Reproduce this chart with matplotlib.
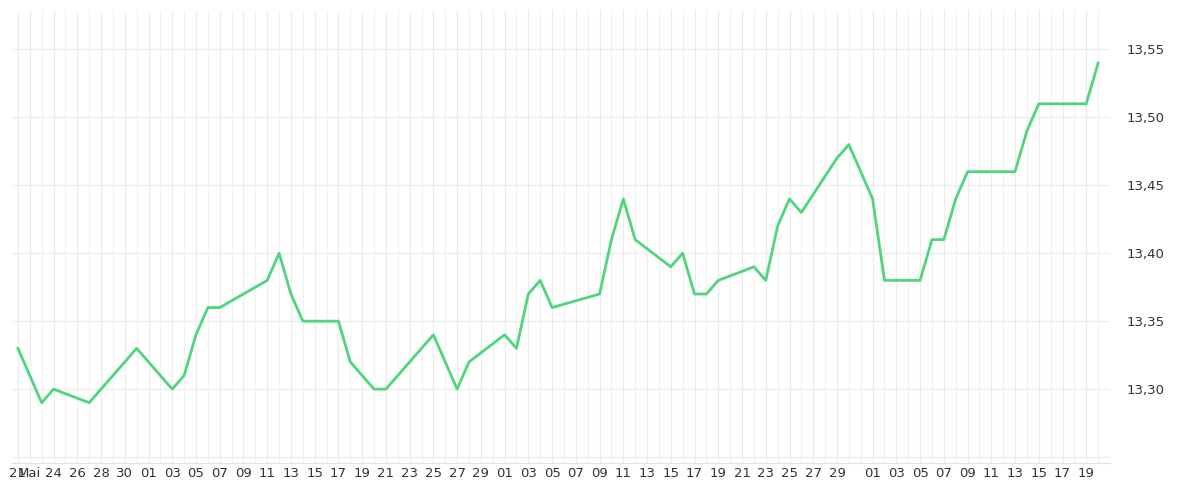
import numpy as np
import pandas as pd
import matplotlib.pyplot as plt
import matplotlib.dates as mdates

# trading dates (as day offsets from the first point) and closing values
start = pd.Timestamp("2025-05-21")
day_offsets = [0, 1, 2, 3, 6, 10, 13, 14, 15, 16, 17, 21, 22, 23, 24, 27, 28, 30, 31,
               35, 37, 38, 41, 42, 43, 44, 45, 49, 50, 51, 52, 55, 56, 57, 58, 59,
               62, 63, 64, 65, 66, 69, 70, 72, 73, 76, 77, 78, 79, 80, 84, 85, 86,
               90, 91]
values = [13.33, 13.31, 13.29, 13.30, 13.29, 13.33, 13.30, 13.31, 13.34, 13.36, 13.36,
          13.38, 13.40, 13.37, 13.35, 13.35, 13.32, 13.30, 13.30, 13.34, 13.30, 13.32,
          13.34, 13.33, 13.37, 13.38, 13.36, 13.37, 13.41, 13.44, 13.41, 13.39, 13.40,
          13.37, 13.37, 13.38, 13.39, 13.38, 13.42, 13.44, 13.43, 13.47, 13.48, 13.44,
          13.38, 13.38, 13.41, 13.41, 13.44, 13.46, 13.46, 13.49, 13.51, 13.51, 13.54]
y_ticks = [13.30, 13.35, 13.40, 13.45, 13.50, 13.55]

dates = [start + pd.Timedelta(days=d) for d in day_offsets]

fig, ax = plt.subplots(figsize=(12, 5), dpi=100)
fig.subplots_adjust(left=0.01, right=0.925, top=0.98, bottom=0.075)

ax.plot(dates, values, color="#4fd57c", linewidth=2, zorder=3)

# x ticks: every second day, month name at the start
tick_dates = [pd.Timestamp("2025-05-21"), pd.Timestamp("2025-05-22")]
tick_dates += list(pd.date_range("2025-05-24", "2025-05-30", freq="2D"))
for m, last in [(6, 29), (7, 29), (8, 19)]:
    tick_dates += list(pd.date_range(f"2025-{m:02d}-01", f"2025-{m:02d}-{last}", freq="2D"))
tick_labels = [d.strftime("%d") for d in tick_dates]
tick_labels[1] = "Mai"
ax.set_xticks(tick_dates)
ax.set_xticklabels(tick_labels)

# daily grid lines
ax.set_xticks(pd.date_range("2025-05-20", "2025-08-22", freq="D"), minor=True)
ax.grid(which="minor", axis="x", color="#f0f0f0", linewidth=0.8)
ax.grid(which="major", axis="x", color="#ececec", linewidth=0.8)

ax.set_xlim(pd.Timestamp("2025-05-20 12:00"), pd.Timestamp("2025-08-21"))
ax.set_ylim(13.246, 13.579)
ax.set_yticks(y_ticks)
ax.set_yticklabels([f"{v:.2f}".replace(".", ",") for v in y_ticks])
ax.set_yticks([13.25], minor=True)
ax.grid(which="both", axis="y", color="#ececec", linewidth=0.8)
ax.yaxis.tick_right()

for s in ["top", "left", "right"]:
    ax.spines[s].set_visible(False)
ax.spines["bottom"].set_color("#e0e0e0")
ax.tick_params(axis="both", which="both", length=0, labelsize=9.5, colors="#333333")
ax.tick_params(axis="y", pad=12)
ax.set_axisbelow(True)

fig.savefig("out.png", dpi=100)
